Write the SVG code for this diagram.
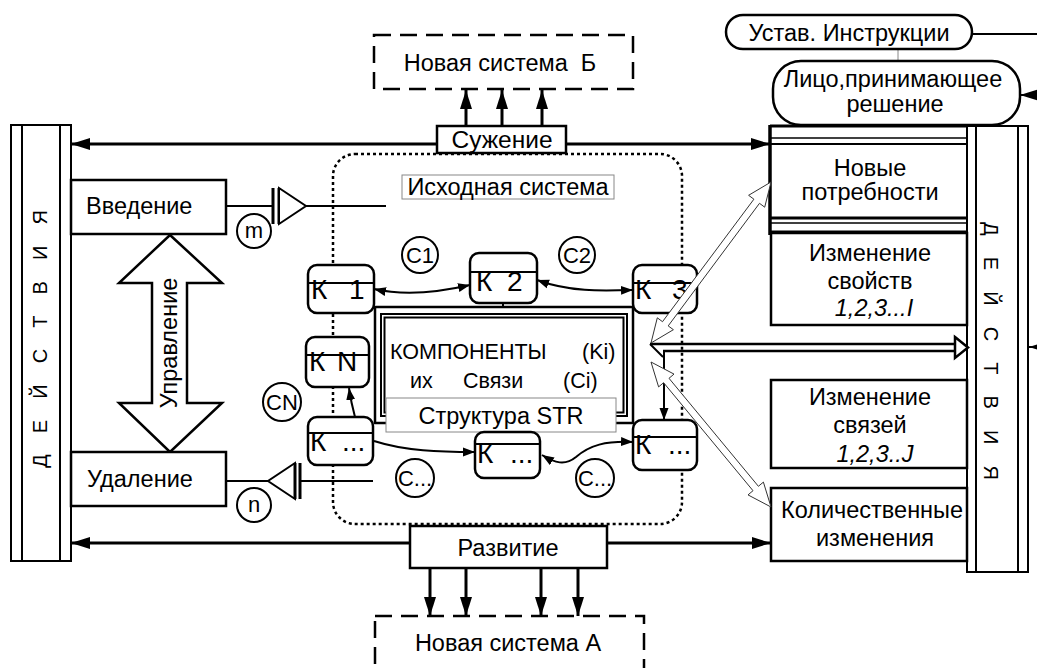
<svg xmlns="http://www.w3.org/2000/svg" width="1037" height="668" viewBox="0 0 1037 668">
<defs>
<style>
text{font-family:"Liberation Sans",Arial,sans-serif;fill:#000}
.t{font-size:23.5px;text-anchor:middle}
.b{fill:#fff;stroke:#000;stroke-width:2.5}
.bar{fill:#fff;stroke:#000;stroke-width:2}
.k{fill:#fff;stroke:#000;stroke-width:2.5}
.kt{font-size:28px}
.c{fill:#fff;stroke:#000;stroke-width:2}
.ct{font-size:22px;text-anchor:middle}
.ln{fill:none;stroke:#000;stroke-width:3}
.thin{fill:none;stroke:#000;stroke-width:2}
.dash{fill:none;stroke:#000;stroke-width:2.5;stroke-dasharray:17 9}
.dot{fill:none;stroke:#000;stroke-width:2.5;stroke-dasharray:3 3}
.hol{fill:#fff;stroke:#333;stroke-width:1}
.lbl{fill:#fff;stroke:#888;stroke-width:1}
</style>
<marker id="a" markerUnits="userSpaceOnUse" markerWidth="20" markerHeight="14" refX="19" refY="7" orient="auto-start-reverse"><path d="M0,1 L19,7 L0,13 z" fill="#000"/></marker>
<marker id="s" markerUnits="userSpaceOnUse" markerWidth="13" markerHeight="10" refX="12" refY="5" orient="auto-start-reverse"><path d="M0,0.5 L12,5 L0,9.5 z" fill="#000"/></marker>
</defs>
<rect width="1037" height="668" fill="#fff"/>

<g id="source-system">
<rect x="333" y="154" width="349" height="370" rx="22" class="dot"/>
<rect x="402" y="175" width="212" height="24" class="lbl"/>
<text class="t" x="508" y="195">Исходная система</text>
</g>

<g id="connectors">
<line x1="437" y1="144" x2="71" y2="144" class="ln" marker-end="url(#a)"/>
<line x1="566" y1="144" x2="770" y2="144" class="ln" marker-end="url(#a)"/>
<line x1="410" y1="543" x2="71" y2="543" class="ln" marker-end="url(#a)"/>
<line x1="607" y1="543" x2="771" y2="543" class="ln" marker-end="url(#a)"/>
<line x1="466" y1="126" x2="466" y2="90" class="ln" marker-end="url(#a)"/>
<line x1="502" y1="126" x2="502" y2="90" class="ln" marker-end="url(#a)"/>
<line x1="542" y1="126" x2="542" y2="90" class="ln" marker-end="url(#a)"/>
<line x1="430" y1="568" x2="430" y2="616" class="ln" marker-end="url(#a)"/>
<line x1="466" y1="568" x2="466" y2="616" class="ln" marker-end="url(#a)"/>
<line x1="541" y1="568" x2="541" y2="616" class="ln" marker-end="url(#a)"/>
<line x1="578" y1="568" x2="578" y2="616" class="ln" marker-end="url(#a)"/>
<line x1="200" y1="206" x2="273" y2="206" class="thin"/>
<line x1="273" y1="188" x2="273" y2="224" class="ln"/>
<line x1="279" y1="188" x2="279" y2="224" class="ln"/>
<polygon points="279,188 306,206 279,224" fill="#fff" stroke="#000" stroke-width="2"/>
<line x1="306" y1="206" x2="386" y2="206" class="thin"/>
<line x1="205" y1="481" x2="268" y2="481" class="thin"/>
<polygon points="295,463 268,481 295,499" fill="#fff" stroke="#000" stroke-width="2"/>
<line x1="295" y1="463" x2="295" y2="499" class="ln"/>
<line x1="300" y1="463" x2="300" y2="499" class="ln"/>
<line x1="300" y1="481" x2="373" y2="481" class="thin"/>
<polygon points="170,235 222,283 187,283 187,403 222,403 170,452 119,403 152,403 152,283 119,283" fill="#fff" stroke="#000" stroke-width="2.5"/>
<text class="t" transform="translate(177,343) rotate(-90)">Управление</text>
<line x1="972" y1="34" x2="1037" y2="34" class="thin"/>
<line x1="898" y1="49" x2="898" y2="61" stroke="#888" stroke-width="1"/>
<line x1="1045" y1="95" x2="1020" y2="95" class="thin" marker-end="url(#a)"/>
<line x1="1045" y1="347" x2="1029" y2="347" class="thin" marker-end="url(#a)"/>
</g>

<g id="structure">
<rect x="375" y="307" width="258" height="116" fill="none" stroke="#000" stroke-width="2.5"/>
<rect x="381" y="314" width="246" height="102" fill="none" stroke="#000" stroke-width="2"/>
<rect x="384.5" y="317.5" width="239" height="95" fill="none" stroke="#000" stroke-width="2"/>
<line x1="503" y1="303" x2="503" y2="307" class="thin"/>
<text font-size="21.5" y="359"><tspan x="390">КОМПОНЕНТЫ</tspan><tspan x="582">(Ki)</tspan></text>
<text font-size="21.5" y="388"><tspan x="410">их</tspan><tspan x="463">Связи</tspan><tspan x="563">(Ci)</tspan></text>
<rect x="386" y="398" width="230" height="34" class="lbl"/>
<text class="t" x="501" y="424">Структура STR</text>
</g>

<g id="k-links">
<path d="M374,289 C405,296 440,292 470,285" class="thin" marker-start="url(#s)" marker-end="url(#s)"/>
<path d="M537,280 C570,292 600,291 633,290" class="thin" marker-start="url(#s)" marker-end="url(#s)"/>
<path d="M355,417 Q351,402 349,388" class="thin" marker-end="url(#s)"/>
<path d="M374,441 C405,451 440,452 475,452" class="thin" marker-end="url(#s)"/>
<path d="M542,455 C555,463 565,466 576,457 C590,445 605,441 633,442" class="thin" marker-start="url(#s)" marker-end="url(#s)"/>
<line x1="664" y1="351" x2="664" y2="420" class="thin" marker-end="url(#s)"/>
</g>

<g id="k1"><rect x="308" y="265" width="66" height="48" rx="9" class="k"/><line x1="308" y1="283" x2="374" y2="283" class="thin"/><text class="kt" y="299"><tspan x="311">К</tspan><tspan x="349">1</tspan></text></g>
<g id="k2"><rect x="470" y="253" width="67" height="50" rx="9" class="k"/><line x1="470" y1="272" x2="537" y2="272" class="thin"/><text class="kt" y="291"><tspan x="476">К</tspan><tspan x="507">2</tspan></text></g>
<g id="k3"><rect x="633" y="265" width="64" height="48" rx="9" class="k"/><line x1="633" y1="283" x2="697" y2="283" class="thin"/><text class="kt" y="299"><tspan x="635">К</tspan><tspan x="672">3</tspan></text></g>
<g id="kn"><rect x="306" y="337" width="63" height="50" rx="9" class="k"/><line x1="306" y1="355" x2="369" y2="355" class="thin"/><text class="kt" y="371"><tspan x="309">К</tspan><tspan x="337">N</tspan></text></g>
<g id="k-left"><rect x="308" y="417" width="65" height="48" rx="9" class="k"/><line x1="308" y1="433" x2="373" y2="433" class="thin"/><text class="kt" y="451"><tspan x="310">К</tspan><tspan x="342">...</tspan></text></g>
<g id="k-mid"><rect x="475" y="432" width="65" height="46" rx="9" class="k"/><line x1="475" y1="444" x2="540" y2="444" class="thin"/><text class="kt" y="463"><tspan x="477">К</tspan><tspan x="510">...</tspan></text></g>
<g id="k-right"><rect x="633" y="420" width="64" height="50" rx="9" class="k"/><line x1="633" y1="437" x2="697" y2="437" class="thin"/><text class="kt" y="454"><tspan x="635">К</tspan><tspan x="668">...</tspan></text></g>

<g id="c1"><circle cx="420" cy="255" r="18" class="c"/><text class="ct" x="420" y="263">C1</text></g>
<g id="c2"><circle cx="577" cy="255" r="18" class="c"/><text class="ct" x="577" y="263">C2</text></g>
<g id="cn"><circle cx="282" cy="402" r="19" class="c"/><text class="ct" x="282" y="410">CN</text></g>
<g id="c-left"><circle cx="415" cy="478" r="19" class="c"/><text class="ct" x="415" y="486">C...</text></g>
<g id="c-right"><circle cx="595" cy="478" r="19" class="c"/><text class="ct" x="595" y="486">C...</text></g>
<g id="m"><circle cx="254" cy="231" r="17" class="c"/><text class="ct" x="254" y="238">m</text></g>
<g id="n"><circle cx="254" cy="505" r="17" class="c"/><text class="ct" x="254" y="512">n</text></g>

<g id="left-actions">
<rect x="11" y="125" width="60" height="436" class="bar"/>
<line x1="22" y1="125" x2="22" y2="561" class="thin"/>
<line x1="60" y1="125" x2="60" y2="561" class="thin"/>
<text font-size="20" transform="translate(47,468) rotate(-90)" textLength="258" lengthAdjust="spacing">Д Е Й С Т В И Я</text>
</g>
<g id="right-actions">
<rect x="967" y="126" width="61" height="446" class="bar"/>
<line x1="976" y1="126" x2="976" y2="572" class="thin"/>
<line x1="1018" y1="126" x2="1018" y2="572" class="thin"/>
<text font-size="20" transform="translate(984,222) rotate(90)" textLength="258" lengthAdjust="spacing">Д Е Й С Т В И Я</text>
</g>

<g id="vvedenie"><rect x="71" y="180" width="155" height="54" class="b"/><text class="t" x="86" y="214" style="text-anchor:start">Введение</text></g>
<g id="udalenie"><rect x="71" y="452" width="155" height="54" class="b"/><text class="t" x="87" y="487" style="text-anchor:start">Удаление</text></g>
<g id="suzhenie"><rect x="437" y="126" width="129" height="27" class="b"/><text class="t" x="502" y="148" style="font-size:24.5px">Сужение</text></g>
<g id="razvitie"><rect x="410" y="526" width="197" height="42" class="b"/><text class="t" x="508" y="556">Развитие</text></g>
<g id="new-b"><rect x="374" y="35" width="259" height="54" class="dash"/><text class="t" x="500" y="71" xml:space="preserve">Новая система  Б</text></g>
<g id="new-a"><rect x="375" y="616" width="269" height="80" class="dash"/><text class="t" x="508" y="651">Новая система А</text></g>

<g id="ustav"><rect x="726" y="15" width="246" height="34" rx="17" class="b"/><text class="t" x="849" y="41">Устав. Инструкции</text></g>
<g id="lpr"><rect x="773" y="61" width="247" height="64" rx="28" class="b"/><text class="t" x="893" y="87">Лицо,принимающее</text><text class="t" x="895" y="112">решение</text></g>

<g id="needs">
<rect x="770" y="126" width="197" height="107" fill="#fff" stroke="#000" stroke-width="2"/>
<line x1="770" y1="126" x2="967" y2="126" class="ln"/>
<line x1="770" y1="138" x2="967" y2="138" stroke="#000" stroke-width="1.5"/>
<line x1="770" y1="144" x2="967" y2="144" stroke="#000" stroke-width="2"/>
<line x1="770" y1="218" x2="967" y2="218" class="ln"/>
<line x1="770" y1="223" x2="967" y2="223" stroke="#000" stroke-width="1.5"/>
<line x1="770" y1="232" x2="967" y2="232" class="ln"/>
<line x1="770" y1="125" x2="770" y2="235" stroke="#000" stroke-width="3.5"/>
<text class="t" x="870" y="176">Новые</text><text class="t" x="870" y="200">потребности</text>
</g>
<g id="props"><rect x="771" y="233" width="196" height="92" class="b"/><text class="t" x="870" y="261">Изменение</text><text class="t" x="870" y="289">свойств</text><text class="t" x="874" y="316" font-style="italic">1,2,3...I</text></g>
<g id="links"><rect x="771" y="380" width="196" height="88" class="b"/><text class="t" x="870" y="405">Изменение</text><text class="t" x="870" y="433">связей</text><text class="t" x="875" y="462" font-style="italic">1,2,3..J</text></g>
<g id="quant"><rect x="771" y="488" width="196" height="73" class="b"/><text class="t" x="872" y="518">Количественные</text><text class="t" x="875" y="546">изменения</text></g>

<g id="hollow-arrows">
<line x1="650" y1="344" x2="957" y2="344" stroke="#000" stroke-width="2.5"/>
<line x1="663" y1="351" x2="957" y2="351" stroke="#000" stroke-width="2.5"/>
<line x1="650" y1="344" x2="663" y2="357" stroke="#000" stroke-width="2"/>
<polygon points="955,337 968,347.5 955,358" fill="#fff" stroke="#000" stroke-width="2.5"/>
<polygon points="651,343 673.4,329.7 668.2,325.9 759.5,203.3 764.7,207.2 771,182 748.6,195.3 753.9,199.2 662.5,321.7 657.3,317.8" class="hol"/>
<polygon points="651,362 658.6,386.9 663.6,382.7 753,490.7 748,494.9 771,507 763.4,482.1 758.4,486.3 669,378.3 674,374.1" class="hol"/>
</g>
</svg>
